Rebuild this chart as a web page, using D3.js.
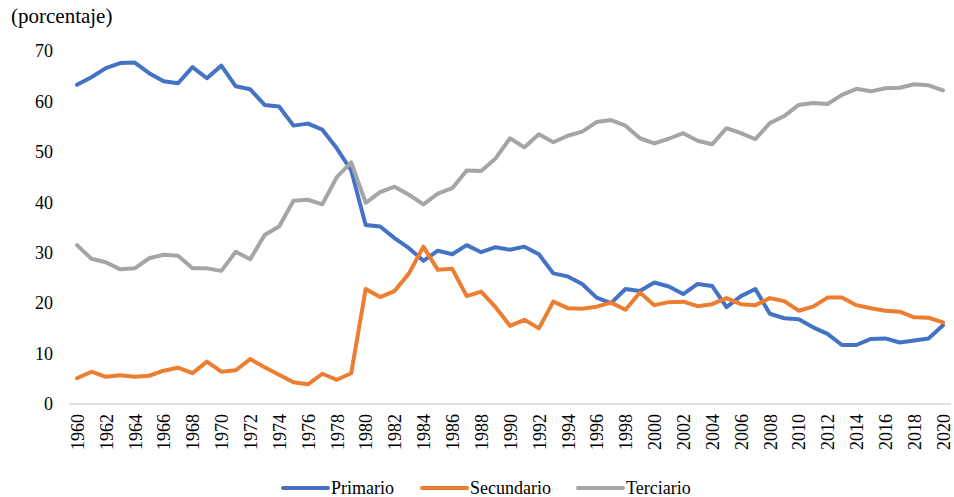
<!DOCTYPE html>
<html><head><meta charset="utf-8">
<script src="https://cdn.jsdelivr.net/npm/d3@7"></script>
<style>body{margin:0;background:#fff;}</style>
</head><body>
<svg id="c" width="954" height="497"></svg>
<script>
const years = d3.range(1960, 2021);
const primario = [63.3,64.8,66.6,67.6,67.7,65.6,64.0,63.6,66.8,64.6,67.1,63.0,62.4,59.3,59.0,55.2,55.6,54.4,50.7,46.3,
  35.5,35.2,32.9,30.9,28.4,30.4,29.7,31.5,30.1,31.1,30.6,31.2,29.7,25.9,25.3,23.8,21.1,20.0,22.8,22.4,
  24.1,23.3,21.8,23.8,23.4,19.2,21.4,22.8,17.9,17.0,16.8,15.2,13.9,11.7,11.7,12.9,13.0,12.2,12.6,13.0,15.6];
const secundario = [5.1,6.4,5.4,5.7,5.4,5.6,6.6,7.2,6.1,8.4,6.4,6.7,8.9,7.3,5.8,4.3,3.9,6.0,4.8,6.1,
  22.8,21.2,22.4,25.9,31.2,26.6,26.8,21.4,22.3,19.2,15.5,16.7,15.0,20.3,19.0,18.9,19.3,20.1,18.7,22.1,
  19.6,20.2,20.3,19.4,19.8,21.0,19.8,19.6,21.0,20.4,18.5,19.3,21.1,21.1,19.6,19.0,18.5,18.3,17.2,17.1,16.2];
const terciario = [31.5,28.8,28.1,26.7,26.9,28.9,29.6,29.4,26.9,26.9,26.4,30.2,28.7,33.5,35.2,40.3,40.5,39.6,45.0,47.9,
  39.9,42.0,43.1,41.5,39.6,41.7,42.8,46.3,46.2,48.7,52.7,50.9,53.5,51.9,53.2,54.0,55.9,56.3,55.2,52.7,
  51.7,52.6,53.7,52.2,51.5,54.7,53.7,52.5,55.7,57.1,59.3,59.7,59.5,61.3,62.5,62.0,62.6,62.7,63.4,63.2,62.2];
const yTicks = [0,10,20,30,40,50,60,70];
const xTickYears = years.filter(y => y % 2 === 0);
const seriesNames = ["Primario","Secundario","Terciario"];
const seriesColors = ["#4472C4","#ED7D31","#A5A5A5"];
const seriesData = [primario, secundario, terciario];

const FONT = "Times New Roman";
const svg = d3.select("#c");
const x = d3.scaleLinear().domain([1960, 2020]).range([77, 943]);
const y = d3.scaleLinear().domain([0, 70]).range([404, 51]);

svg.append("text").attr("x", 11).attr("y", 23).attr("font-size", 21).attr("fill", "#000")
  .style("font-family", `"${FONT}"`).text("(porcentaje)");

const yAxis = d3.axisLeft(y).tickValues(yTicks).tickSize(0).tickPadding(0).tickFormat(d3.format("d"));
const gy = svg.append("g").attr("transform", "translate(53,0)").call(yAxis);
gy.attr("font-family", null).attr("font-size", null);
gy.select(".domain").remove();
gy.selectAll("text").attr("fill", "#000").attr("font-size", 18).style("font-family", `"${FONT}"`);

svg.append("line").attr("x1", 69).attr("x2", 951).attr("y1", y(0)).attr("y2", y(0))
  .attr("stroke", "#D9D9D9").attr("stroke-width", 1.5);

const xAxis = d3.axisBottom(x).tickValues(xTickYears).tickSize(0).tickFormat(d3.format("d"));
const gx = svg.append("g").attr("transform", `translate(0,${y(0)})`).call(xAxis);
gx.attr("font-family", null).attr("font-size", null);
gx.select(".domain").remove();
gx.selectAll("text")
  .attr("fill", "#000").attr("font-size", 18).style("font-family", `"${FONT}"`)
  .attr("transform", "rotate(-90)")
  .attr("text-anchor", "end")
  .attr("x", -10).attr("y", 0).attr("dy", "0.35em");

const line = d3.line().x((d, i) => x(years[i])).y(d => y(d));
seriesData.forEach((s, k) => {
  svg.append("path").datum(s).attr("d", line).attr("fill", "none")
    .attr("stroke", seriesColors[k]).attr("stroke-width", 4).attr("stroke-linejoin", "round").attr("stroke-linecap", "round");
});

const legX = [283, 422, 578];
seriesNames.forEach((n, k) => {
  const g = svg.append("g");
  g.append("line").attr("x1", legX[k]).attr("x2", legX[k] + 45).attr("y1", 488).attr("y2", 488)
    .attr("stroke", seriesColors[k]).attr("stroke-width", 4).attr("stroke-linecap", "round");
  g.append("text").attr("x", legX[k] + 48).attr("y", 494).attr("font-size", 18)
    .attr("fill", "#000").style("font-family", `"${FONT}"`).text(n);
});
</script>
</body></html>
